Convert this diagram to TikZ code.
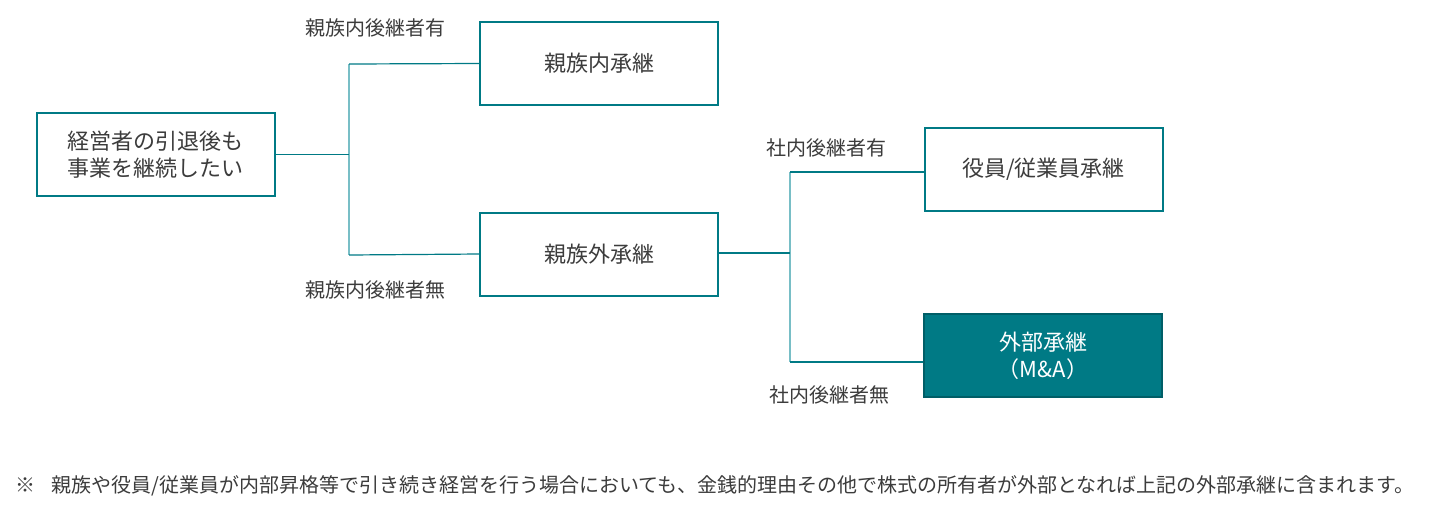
\documentclass[tikz,border=0pt]{standalone}
\usepackage{fontspec}
\setmainfont{Noto Sans CJK JP}
\definecolor{teal1}{HTML}{007A85}
\definecolor{teal2}{HTML}{005E67}
\definecolor{tealL}{HTML}{78BEC6}
\definecolor{txt}{HTML}{3C3C3C}
\begin{document}
\begin{tikzpicture}[x=0.5pt,y=-0.5pt,
  box/.style={draw=teal1,line width=1pt,fill=white,minimum width=119pt,minimum height=41.5pt,
    inner sep=0pt,align=center,text=txt,font=\fontsize{11}{13.5}\selectfont},
  darkbox/.style={box,draw=teal2,fill=teal1,text=white},
  lbl/.style={text=txt,font=\fontsize{10}{12}\selectfont,inner sep=0pt},
  hline/.style={draw=teal1,line width=0.6pt},
  vline/.style={draw=tealL,line width=0.8pt}]
\useasboundingbox (0,0) rectangle (1436,510);
\node[box] (A) at (156,154.5) {経営者の引退後も\\事業を継続したい};
\node[box] (B) at (599,63.5) {親族内承継};
\node[box] (C) at (599,254) {親族外承継};
\node[box] (D) at (1043.5,169.5) {役員/従業員承継};
\node[darkbox] (E) at (1043,355.5) {外部承継\\（M\&A）};
\coordinate (j1) at (349,154.5);
\coordinate (t1) at (349,64);
\coordinate (b1) at (349,255);
\coordinate (j2) at (790,253);
\coordinate (t2) at (790,172);
\coordinate (b2) at (790,362);
\draw[vline] (t1) -- (b1);
\draw[vline] (t2) -- (b2);
\draw[hline] (A.east) -- (j1);
\draw[hline] (t1) -- (B.west);
\draw[hline] (b1) -- (C.west);
\draw[hline] (C.east |- j2) -- (j2);
\draw[hline] (t2) -- (D.west |- t2);
\draw[hline] (b2) -- (E.west |- b2);
\node[lbl] (l1) at (375,28) {親族内後継者有};
\node[lbl] (l2) at (375,290) {親族内後継者無};
\node[lbl] (l3) at (826,148) {社内後継者有};
\node[lbl] (l4) at (829,395) {社内後継者無};
\node[lbl,anchor=west] (fn) at (15,486) {※\hspace{8pt}親族や役員/従業員が内部昇格等で引き続き経営を行う場合においても、金銭的理由その他で株式の所有者が外部となれば上記の外部承継に含まれます。};
\end{tikzpicture}
\end{document}
